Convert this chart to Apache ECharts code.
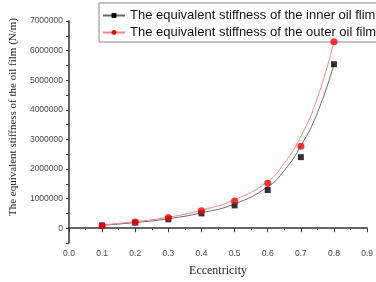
<!DOCTYPE html>
<html>
<head>
<meta charset="utf-8">
<script src="https://cdn.jsdelivr.net/npm/echarts@6/dist/echarts.min.js"></script>
<style>
  html, body { margin: 0; padding: 0; background: #fff; }
  #main { width: 376px; height: 282px; }
</style>
</head>
<body>
<div id="main"></div>
<script>
// measured points
const eccentricity = [0.1, 0.2, 0.3, 0.4, 0.5, 0.6, 0.7, 0.8];
const innerStiffness = [90000, 190000, 300000, 500000, 770000, 1290000, 2400000, 5540000];
const outerStiffness = [80000, 210000, 360000, 590000, 920000, 1520000, 2770000, 6300000];

// fitted curves
const fitEcc = [0.1, 0.2, 0.3, 0.4, 0.5, 0.6, 0.65, 0.7, 0.75, 0.8];
const innerFit = [100000, 190000, 320000, 520000, 820000, 1400000, 1950000, 2780000, 3900000, 5540000];
const outerFit = [110000, 220000, 370000, 610000, 960000, 1580000, 2200000, 3100000, 4400000, 6300000];

const innerName = 'The equivalent stiffness of the inner oil flim';
const outerName = 'The equivalent stiffness of the outer oil film';

function pairs(xs, ys) {
    let res = [];
    for (let i = 0; i < xs.length; i++) {
        res.push([xs[i], ys[i]]);
    }
    return res;
}

var myChart = echarts.init(document.getElementById('main'));

let axisColor = '#333';

let option = {
    animation: false,
    grid: { left: 63, top: 21, right: 7, bottom: 36 },
    legend: {
        left: 99,
        top: 3,
        orient: 'vertical',
        padding: [6, 5, 3, 3],
        itemGap: 4,
        itemWidth: 22,
        itemHeight: 6,
        borderColor: '#888',
        borderWidth: 1,
        borderRadius: 0,
        data: [innerName, outerName],
        textStyle: {
            fontFamily: 'Liberation Sans',
            fontSize: 13,
            color: '#111'
        }
    },
    xAxis: {
        type: 'value',
        min: 0,
        max: 0.9,
        interval: 0.1,
        name: 'Eccentricity',
        nameLocation: 'middle',
        nameGap: 22,
        nameTextStyle: { fontFamily: 'Liberation Serif', fontSize: 12, color: '#222' },
        axisLine: { lineStyle: { color: axisColor, width: 1.5 } },
        axisTick: { inside: false, length: 4, lineStyle: { color: axisColor } },
        minorTick: { show: true, splitNumber: 2, length: 2, lineStyle: { color: axisColor } },
        splitLine: { show: false },
        axisLabel: {
            margin: 6,
            fontFamily: 'Liberation Sans',
            fontSize: 8.5,
            color: '#444',
            formatter: function(v) { return v.toFixed(1); }
        }
    },
    yAxis: {
        type: 'value',
        min: -500000,
        max: 7000000,
        interval: 500000,
        name: 'The equivalent stiffness of the oil film (N/m)',
        nameLocation: 'middle',
        nameGap: 45,
        nameTextStyle: {
            fontFamily: 'Liberation Serif',
            fontSize: 11,
            color: '#222',
            padding: [0, 0, 0, 30]
        },
        axisLine: { show: true, lineStyle: { color: axisColor, width: 1.5 } },
        axisTick: { length: 3, lineStyle: { color: axisColor } },
        splitLine: { show: false },
        axisLabel: {
            margin: 6,
            fontFamily: 'Liberation Sans',
            fontSize: 8.5,
            color: '#444',
            formatter: function(v) {
                // only whole millions carry a label
                if (v < 0 || v % 1000000 !== 0) return '';
                return String(v);
            }
        }
    },
    series: [{
        name: innerName,
        type: 'line',
        data: pairs(fitEcc, innerFit),
        smooth: true,
        symbol: 'rect',
        symbolSize: 6,
        showSymbol: false,
        itemStyle: { color: '#000' },
        lineStyle: { color: '#666', width: 1 },
        z: 2
    }, {
        name: outerName,
        type: 'line',
        data: pairs(fitEcc, outerFit),
        smooth: true,
        symbol: 'circle',
        symbolSize: 7,
        showSymbol: false,
        itemStyle: { color: '#ff0000' },
        lineStyle: { color: '#ff8080', width: 1 },
        z: 2
    }, {
        name: innerName,
        type: 'scatter',
        data: pairs(eccentricity, innerStiffness),
        symbol: 'rect',
        symbolSize: 6,
        itemStyle: { color: '#000' },
        z: 3
    }, {
        name: outerName,
        type: 'scatter',
        data: pairs(eccentricity, outerStiffness),
        symbol: 'circle',
        symbolSize: 7,
        itemStyle: { color: '#ff0000' },
        z: 4
    }]
};
myChart.setOption(option);
</script>
</body>
</html>
